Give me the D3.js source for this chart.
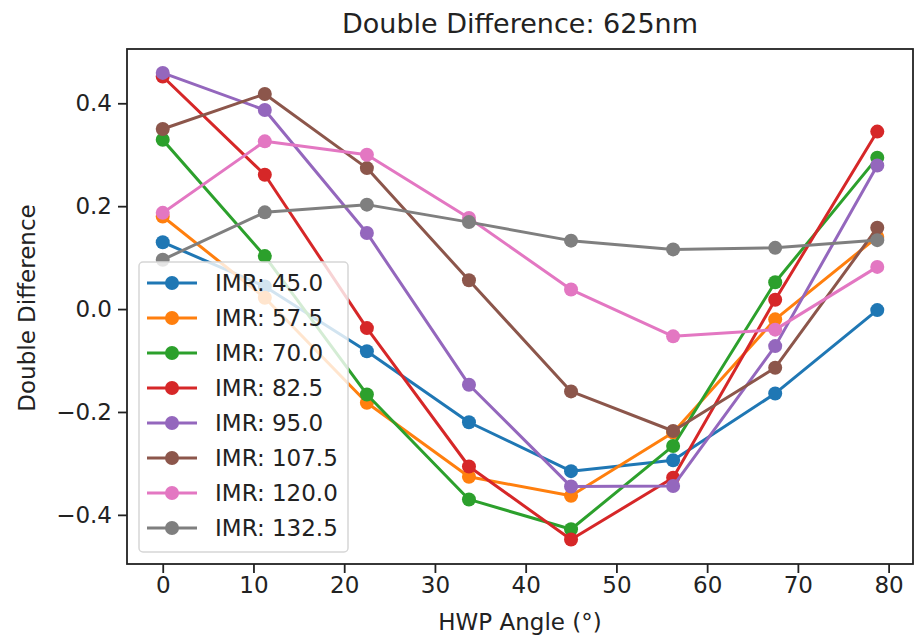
<!DOCTYPE html>
<html>
<head>
<meta charset="utf-8">
<script src="https://cdn.jsdelivr.net/npm/d3@7"></script>
<style>
  html, body { margin: 0; padding: 0; background: #fff; }
  svg { display: block; font-family: "DejaVu Sans", sans-serif; }
</style>
</head>
<body>
<svg id="chart" width="914" height="640"></svg>
<script>
const title = "Double Difference: 625nm";
const xLabel = "HWP Angle (°)";
const yLabel = "Double Difference";
const angles = [0, 11.25, 22.5, 33.75, 45, 56.25, 67.5, 78.75];
const seriesNames = ["IMR: 45.0", "IMR: 57.5", "IMR: 70.0", "IMR: 82.5", "IMR: 95.0", "IMR: 107.5", "IMR: 120.0", "IMR: 132.5"];
const imr45   = [0.130, 0.044, -0.082, -0.220, -0.315, -0.294, -0.164, -0.002];
const imr57_5 = [0.180, 0.022, -0.182, -0.326, -0.363, -0.240, -0.020, 0.140];
const imr70   = [0.329, 0.103, -0.166, -0.370, -0.428, -0.266, 0.052, 0.294];
const imr82_5 = [0.452, 0.261, -0.037, -0.306, -0.448, -0.328, 0.018, 0.345];
const imr95   = [0.459, 0.387, 0.148, -0.147, -0.345, -0.344, -0.072, 0.279];
const imr107_5= [0.350, 0.418, 0.274, 0.056, -0.160, -0.237, -0.114, 0.158];
const imr120  = [0.187, 0.326, 0.300, 0.177, 0.038, -0.053, -0.040, 0.082];
const imr132_5= [0.096, 0.188, 0.203, 0.169, 0.133, 0.116, 0.119, 0.134];
const xTicks = [0, 10, 20, 30, 40, 50, 60, 70, 80];
const yTicks = [-0.4, -0.2, 0.0, 0.2, 0.4];
const colors = ["#1f77b4", "#ff7f0e", "#2ca02c", "#d62728", "#9467bd", "#8c564b", "#e377c2", "#7f7f7f"];

const seriesValues = [imr45, imr57_5, imr70, imr82_5, imr95, imr107_5, imr120, imr132_5];
const series = seriesNames.map((name, i) => ({
  name, color: colors[i],
  points: angles.map((a, j) => ({x: a, y: seriesValues[i][j]}))
}));

const svg = d3.select("#chart");
const pLeft = 127, pRight = 913, pTop = 49, pBottom = 564;
const x = d3.scaleLinear().domain([-3.9375, 82.6875]).range([pLeft, pRight]);
const y = d3.scaleLinear().domain([-0.4955, 0.5055]).range([pBottom, pTop]);
const textColor = "#222";
const fs = 23;

// Series
const line = d3.line().x(d => x(d.x)).y(d => y(d.y));
const plot = svg.append("g");
series.forEach(s => {
  plot.append("path").datum(s.points)
    .attr("d", line).attr("fill", "none")
    .attr("stroke", s.color).attr("stroke-width", 3)
    .attr("stroke-linejoin", "round").attr("stroke-linecap", "square");
  plot.selectAll(null).data(s.points).enter().append("circle")
    .attr("cx", d => x(d.x)).attr("cy", d => y(d.y)).attr("r", 7)
    .attr("fill", s.color);
});

// Axes
const xAxis = d3.axisBottom(x).tickValues(xTicks).tickFormat(d3.format("d")).tickSize(9).tickPadding(4);
const yAxis = d3.axisLeft(y).tickValues(yTicks).tickFormat(d => d3.format(".1f")(d).replace("-", "\u2212")).tickSize(9).tickPadding(6);
const gx = svg.append("g").attr("transform", `translate(0,${pBottom})`).call(xAxis);
const gy = svg.append("g").attr("transform", `translate(${pLeft},0)`).call(yAxis);
[gx, gy].forEach(g => {
  g.select(".domain").remove();
  g.selectAll(".tick line").attr("stroke", textColor).attr("stroke-width", 1.8);
  g.selectAll(".tick text").attr("fill", textColor).attr("font-size", fs).attr("font-family", "DejaVu Sans");
});

// Frame
svg.append("rect").attr("x", pLeft).attr("y", pTop).attr("width", pRight - pLeft).attr("height", pBottom - pTop)
  .attr("fill", "none").attr("stroke", textColor).attr("stroke-width", 1.8);

// Legend
const lg = svg.append("g");
const lgX = 139, lgY = 262, lgW = 209, lgH = 290, rowH = 35, row0 = 283;
lg.append("rect").attr("x", lgX).attr("y", lgY).attr("width", lgW).attr("height", lgH)
  .attr("rx", 4).attr("fill", "#fff").attr("fill-opacity", 0.8)
  .attr("stroke", "#d6d6d6").attr("stroke-width", 1.5);
series.forEach((s, i) => {
  const cy = row0 + i * rowH;
  lg.append("line").attr("x1", 147).attr("x2", 197).attr("y1", cy).attr("y2", cy)
    .attr("stroke", s.color).attr("stroke-width", 3);
  lg.append("circle").attr("cx", 172).attr("cy", cy).attr("r", 7).attr("fill", s.color);
  lg.append("text").attr("x", 215).attr("y", cy).attr("dy", "0.36em")
    .attr("font-size", fs).attr("fill", textColor).text(s.name);
});

// Titles
svg.append("text").attr("x", (pLeft + pRight) / 2).attr("y", 33).attr("text-anchor", "middle")
  .attr("font-size", 27).attr("fill", textColor).text(title);
svg.append("text").attr("x", (pLeft + pRight) / 2).attr("y", 630).attr("text-anchor", "middle")
  .attr("font-size", fs).attr("fill", textColor).text(xLabel);
svg.append("text").attr("transform", "translate(35,308) rotate(-90)").attr("text-anchor", "middle")
  .attr("font-size", fs).attr("fill", textColor).text(yLabel);
</script>
</body>
</html>
